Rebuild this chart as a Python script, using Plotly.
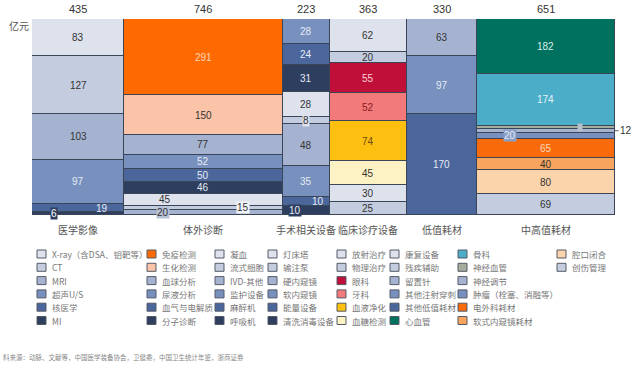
import plotly.graph_objects as go

# ---------------- data ----------------
columns = ["医学影像", "体外诊断", "手术相关设备", "临床诊疗设备", "低值耗材", "中高值耗材"]
totals = [435, 746, 223, 363, 330, 651]

imaging_names = ["X-ray（含DSA、钼靶等）", "CT", "MRI", "超声U/S", "核医学", "MI"]
imaging_values = [83, 127, 103, 97, 19, 6]

ivd_names = ["免疫检测", "生化检测", "血球分析", "尿液分析", "血气与电解质", "分子诊断", "凝血", "流式细胞", "IVD-其他"]
ivd_values = [291, 150, 77, 52, 50, 46, 45, 15, 20]

surgery_names = ["监护设备", "麻醉机", "呼吸机", "灯床塔", "输注泵", "硬内窥镜", "软内窥镜", "能量设备", "清洗消毒设备"]
surgery_values = [28, 24, 31, 28, 8, 48, 35, 10, 10]

clinical_names = ["放射治疗", "物理治疗", "眼科", "牙科", "血液净化", "血糖检测", "康复设备", "残疾辅助"]
clinical_values = [62, 20, 55, 52, 74, 45, 30, 25]

lowvalue_names = ["留置针", "其他注射穿刺", "其他低值耗材"]
lowvalue_values = [63, 97, 170]

highvalue_names = ["心血管", "骨科", "神经血管", "神经调节", "肿瘤（栓塞、消融等）", "电外科耗材", "软式内窥镜耗材", "腔口闭合", "创伤管理"]
highvalue_values = [182, 174, 9, 12, 20, 65, 40, 80, 69]

seg_names = [imaging_names, ivd_names, surgery_names, clinical_names, lowvalue_names, highvalue_names]
seg_values = [imaging_values, ivd_values, surgery_values, clinical_values, lowvalue_values, highvalue_values]

legend_columns = [
    ["X-ray（含DSA、钼靶等）", "CT", "MRI", "超声U/S", "核医学", "MI"],
    ["免疫检测", "生化检测", "血球分析", "尿液分析", "血气与电解质", "分子诊断"],
    ["凝血", "流式细胞", "IVD-其他", "监护设备", "麻醉机", "呼吸机"],
    ["灯床塔", "输注泵", "硬内窥镜", "软内窥镜", "能量设备", "清洗消毒设备"],
    ["放射治疗", "物理治疗", "眼科", "牙科", "血液净化", "血糖检测"],
    ["康复设备", "残疾辅助", "留置针", "其他注射穿刺", "其他低值耗材", "心血管"],
    ["骨科", "神经血管", "神经调节", "肿瘤（栓塞、消融等）", "电外科耗材", "软式内窥镜耗材"],
    ["腔口闭合", "创伤管理"],
]

footer = "料来源：动脉、文献等，中国医学装备协会，卫健委，中国卫生统计年鉴，浙商证券"

# ---------------- styles ----------------
L1, L2, L3, L4, L5, L6 = "#dde2ed", "#c4cde0", "#a5b3d0", "#7790bd", "#4b669b", "#2d3e5e"
shade_cycle = [L1, L2, L3, L4, L5, L6]
special_colors = {
    "免疫检测": "#ff6a00", "生化检测": "#fbc4a8",
    "眼科": "#c0103a", "牙科": "#f37a7a", "血液净化": "#fdc010", "血糖检测": "#fdf2c4",
    "心血管": "#00705f", "骨科": "#4badc8", "神经血管": "#a5ae9c",
    "电外科耗材": "#f96b0a", "软式内窥镜耗材": "#f7a55e", "腔口闭合": "#fcd4ac",
}
color_map = {}
for col in legend_columns:
    for r, n in enumerate(col):
        color_map[n] = special_colors.get(n, shade_cycle[r])

DARK = "#333333"
LIGHT = "#e6ecf6"
text_color = {
    "超声U/S": LIGHT, "核医学": LIGHT, "MI": "#ffffff",
    "免疫检测": "#fcd6b8", "尿液分析": LIGHT, "血气与电解质": LIGHT, "分子诊断": LIGHT,
    "监护设备": LIGHT, "麻醉机": LIGHT, "呼吸机": LIGHT, "软内窥镜": LIGHT, "能量设备": LIGHT, "清洗消毒设备": LIGHT,
    "眼科": "#f8d0d8", "牙科": "#8a1f1f", "血液净化": "#6b4a10",
    "其他注射穿刺": LIGHT, "其他低值耗材": LIGHT,
    "心血管": "#d8efe9", "骨科": "#e6f4f8", "肿瘤（栓塞、消融等）": LIGHT, "电外科耗材": "#fcd6b8",
}
# label offsets (pixels) and backgrounds for thin segments
label_special = {
    "核医学": dict(dx=24), "MI": dict(dx=-24, bg=L6),
    "凝血": dict(dx=-38), "流式细胞": dict(dx=40, bg="#f2f4f8"), "IVD-其他": dict(dx=-40, bg="#b8c2d6"),
    "输注泵": dict(dx=0, bg=L1),
    "能量设备": dict(dx=12), "清洗消毒设备": dict(dx=-11, bg=L6),
    "肿瘤（栓塞、消融等）": dict(dx=-36, bg="#8a9fc8"),
    "神经血管": dict(dx=34, bg="#b8c0cc", color="#b8c0cc", size=7),
}

W, H = 631, 369
X0, X1, Y0, Y1 = 32, 615, 19, 215
EDGE = "#3a4658"
NUMFONT = "Liberation Sans, Arial, sans-serif"
CJK = "Noto Sans CJK SC"


def pxx(x):
    return x / W


def pxy(y):
    return 1 - y / H


fig = go.Figure()
annotations = []
shapes = []
span = sum(totals)
start = 0
for col, tot, names, vals in zip(columns, totals, seg_names, seg_values):
    center = start + tot / 2
    s = sum(vals)
    cum = 0
    for n, v in zip(names, vals):
        ymid = 100 - 100 * (cum + v / 2) / s
        cum += v
        if n == "神经调节":
            annotations.append(dict(x=span, y=ymid, xref="x", yref="y", text=str(v), showarrow=True,
                                    ax=11, ay=0, arrowhead=0, arrowwidth=1, arrowcolor="#555555",
                                    font=dict(size=10, color=DARK, family=NUMFONT)))
            continue
        sp = label_special.get(n, {})
        annotations.append(dict(
            x=center, y=ymid, xref="x", yref="y", text=str(v), showarrow=False,
            xanchor="center", yanchor="middle",
            xshift=sp.get("dx", 0), bgcolor=sp.get("bg", "rgba(0,0,0,0)"), borderpad=0,
            font=dict(size=sp.get("size", 10), color=sp.get("color", text_color.get(n, DARK)), family=NUMFONT)))
    for n, v in reversed(list(zip(names, vals))):
        fig.add_trace(go.Bar(
            x=[center], y=[100 * v / s], width=[tot], name=n, showlegend=False,
            marker=dict(color=color_map[n], line=dict(color=EDGE, width=1)),
            hovertemplate=f"{col}<br>{n}: {v}<extra></extra>"))
    # total on top and category below
    annotations.append(dict(x=center, y=pxy(9), xref="x", yref="paper", text=str(tot), showarrow=False,
                            xanchor="center", yanchor="middle",
                            font=dict(size=11, color=DARK, family=NUMFONT)))
    annotations.append(dict(x=center, y=pxy(229), xref="x", yref="paper", text=col, showarrow=False,
                            xanchor="center", yanchor="middle",
                            font=dict(size=10, color="#555555", family=CJK)))
    start += tot

annotations.append(dict(x=pxx(19), y=pxy(26), xref="paper", yref="paper", text="亿元", showarrow=False,
                        xanchor="center", yanchor="middle",
                        font=dict(size=10, color="#555555", family=CJK)))

# manual legend grid (column-major, like the reference)
legend_x = [37, 147, 215, 268, 337, 390, 458, 557]
for c, names in enumerate(legend_columns):
    for r, n in enumerate(names):
        yc = 254 + 13.3 * r
        bx = legend_x[c]
        shapes.append(dict(type="rect", xref="paper", yref="paper",
                           x0=pxx(bx), x1=pxx(bx + 9), y0=pxy(yc + 4), y1=pxy(yc - 4),
                           fillcolor=color_map[n], line=dict(color="#555b66", width=1)))
        annotations.append(dict(x=pxx(bx + 13), y=pxy(yc), xref="paper", yref="paper", text=n,
                                showarrow=False, xanchor="left", yanchor="middle",
                                font=dict(size=8.5, color="#777777", family=CJK)))

annotations.append(dict(x=pxx(1), y=pxy(357), xref="paper", yref="paper", text=footer, showarrow=False,
                        xanchor="left", yanchor="middle", font=dict(size=6.5, color="#888888", family=CJK)))

fig.update_layout(
    width=W, height=H, margin=dict(l=0, r=0, t=0, b=0),
    paper_bgcolor="white", plot_bgcolor="white",
    barmode="stack", bargap=0, showlegend=False,
    xaxis=dict(domain=[X0 / W, X1 / W], range=[0, span], visible=False, fixedrange=True),
    yaxis=dict(domain=[1 - Y1 / H, 1 - Y0 / H], range=[0, 100], visible=False, fixedrange=True),
    annotations=annotations, shapes=shapes,
    font=dict(family=NUMFONT),
)

fig.write_html("out.html", config={"displayModeBar": False},
               post_script="document.body.style.margin='0px';document.body.style.overflow='hidden';")
